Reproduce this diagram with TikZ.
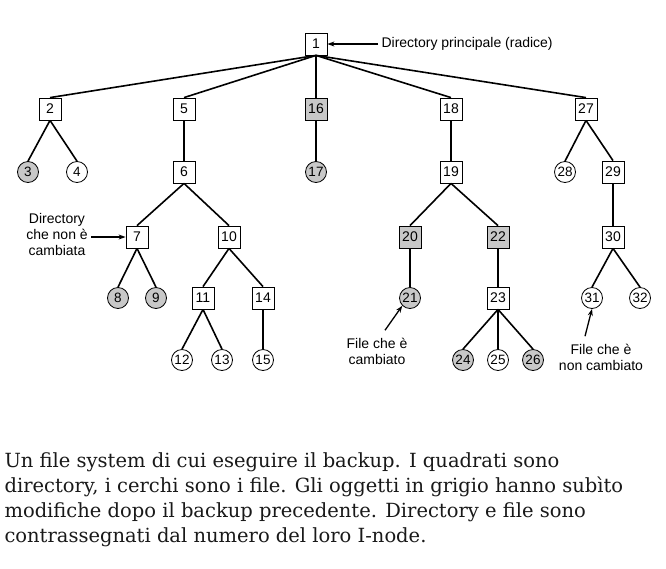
\documentclass[tikz,border=0pt]{standalone}
\usepackage{fontspec}
\setmainfont{Liberation Sans}
\newfontfamily\capfont{DejaVu Serif}
\usetikzlibrary{arrows.meta}
\definecolor{grigio}{RGB}{200,200,200}

\tikzset{
    dir/.style={draw, thick, rectangle, fill=white, minimum size=22pt, inner sep=1pt, font=\fontsize{14}{16}\selectfont},
    fil/.style={draw, thick, circle, fill=white, minimum size=21pt, inner sep=0pt, font=\fontsize{13.5}{16}\selectfont},
    mod/.style={fill=grigio},
    ramo/.style={line width=1.6pt},
    freccia/.style={line width=1.3pt, -{Stealth[length=7pt, width=5pt]}},
    nota/.style={align=center, font=\fontsize{14}{16}\selectfont}
}

\begin{document}
\begin{tikzpicture}[x=1pt, y=-1pt]
    % Cornice della pagina
    \useasboundingbox (0,0) rectangle (666,568);

    % Radice
    \node[dir] (n1) at (316,44) {1};

    % Primo livello
    \node[dir] (n2) at (50,109) {2};
    \node[dir] (n5) at (184,109) {5};
    \node[dir, mod] (n16) at (316,109) {16};
    \node[dir] (n18) at (451,109) {18};
    \node[dir] (n27) at (586,109) {27};

    % Secondo livello
    \node[fil, mod] (n3) at (28,172) {3};
    \node[fil] (n4) at (77,172) {4};
    \node[dir] (n6) at (184,172) {6};
    \node[fil, mod] (n17) at (316,172) {17};
    \node[dir] (n19) at (451,172) {19};
    \node[fil] (n28) at (565,172) {28};
    \node[dir] (n29) at (613,172) {29};

    % Terzo livello
    \node[dir] (n7) at (137,237) {7};
    \node[dir] (n10) at (229,237) {10};
    \node[dir, mod] (n20) at (410,237) {20};
    \node[dir, mod] (n22) at (498,237) {22};
    \node[dir] (n30) at (613,237) {30};

    % Quarto livello
    \node[fil, mod] (n8) at (118,298) {8};
    \node[fil, mod] (n9) at (156,298) {9};
    \node[dir] (n11) at (203,298) {11};
    \node[dir] (n14) at (263,298) {14};
    \node[fil, mod] (n21) at (410,298) {21};
    \node[dir] (n23) at (498,298) {23};
    \node[fil] (n31) at (592,298) {31};
    \node[fil] (n32) at (640,298) {32};

    % Quinto livello
    \node[fil] (n12) at (182,360) {12};
    \node[fil] (n13) at (222,360) {13};
    \node[fil] (n15) at (263,360) {15};
    \node[fil, mod] (n24) at (463,360) {24};
    \node[fil] (n25) at (498,360) {25};
    \node[fil, mod] (n26) at (533,360) {26};

    % Rami dell'albero
    \foreach \p/\c in {n1/n2, n1/n5, n1/n16, n1/n18, n1/n27,
                       n2/n3, n2/n4, n5/n6, n16/n17, n18/n19, n27/n28, n27/n29,
                       n6/n7, n6/n10, n19/n20, n19/n22, n29/n30,
                       n7/n8, n7/n9, n10/n11, n10/n14, n20/n21, n22/n23, n30/n31, n30/n32,
                       n11/n12, n11/n13, n14/n15, n23/n24, n23/n25, n23/n26} {
        \draw[ramo] (\p.south) -- (\c.north);
    }

    % Didascalie con frecce
    \node[nota, anchor=west] (radice) at (378,44) {Directory principale (radice)};
    \draw[freccia] (radice.west) -- (n1.east);

    \node[nota] (dirnc) at (57,234) {Directory\\che non è\\cambiata};
    \draw[freccia] (dirnc.east |- n7) -- (n7.west);

    \node[nota] (filec) at (377,351) {File che è\\cambiato};
    \draw[freccia] (filec.north) ++(8,-4) coordinate (fc) (fc) -- (n21.south west);

    \node[nota] (filenc) at (601,357) {File che è\\non cambiato};
    \draw[freccia] (filenc.north) ++(-16,-4) coordinate (fnc) (fnc) -- (n31.south);

    % Testo sotto la figura
    \node[anchor=north west, align=left, text=black!90,
          font=\capfont\fontsize{19.5}{25}\selectfont] (testo) at (1,449)
        {Un file system di cui eseguire il backup. I quadrati sono\\
         directory, i cerchi sono i file. Gli oggetti in grigio hanno subìto\\
         modifiche dopo il backup precedente. Directory e file sono\\
         contrassegnati dal numero del loro I-node.};
\end{tikzpicture}
\end{document}
